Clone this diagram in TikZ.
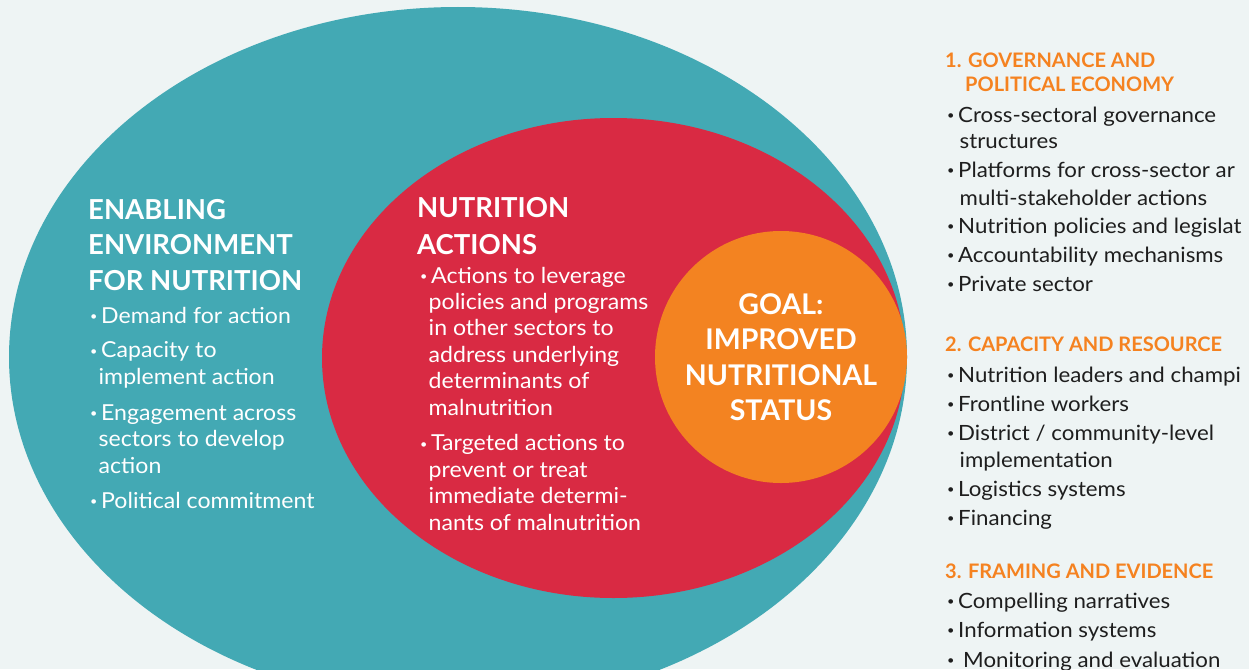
\documentclass[tikz,border=0pt]{standalone}
\usepackage{fontspec}
\setmainfont{Lato}
\newfontfamily\bodyfont[FakeStretch=1.05]{Lato}
\newfontfamily\sidefont[FakeStretch=1.06]{Lato}
\usepackage{tikz}
\usetikzlibrary{shapes.geometric}
\definecolor{BgGray}{RGB}{238,244,244}
\definecolor{Teal}{RGB}{67,169,180}
\definecolor{Red}{RGB}{217,42,67}
\definecolor{Orange}{RGB}{243,131,33}
\definecolor{HeadOrange}{RGB}{245,130,32}
\definecolor{FontColor}{RGB}{30,30,30}
% small bullet and hanging indents
\newcommand{\bul}{\makebox[11pt][l]{\raisebox{2.5pt}{\fontsize{12}{12}\selectfont•}}}
\newcommand{\ind}{\hspace*{8.5pt}}
\newcommand{\sind}{\hspace*{12.5pt}}
\tikzset{
    blob/.style={ellipse, inner sep=0pt, draw=none},
    headtext/.style={anchor=base west, inner sep=0pt, align=left, text=white, font=\bfseries\fontsize{27.5}{35.5}\selectfont},
    bodytext/.style={anchor=base west, inner sep=0pt, align=left, text=white, font=\bodyfont\fontsize{22}{26.4}\selectfont},
    sidehead/.style={anchor=base west, inner sep=0pt, align=left, text=HeadOrange, font=\bfseries\fontsize{20}{24}\selectfont},
    sidetext/.style={anchor=base west, inner sep=0pt, align=left, text=FontColor, font=\sidefont\fontsize{21}{26}\selectfont}
}

\begin{document}
\begin{tikzpicture}[x=1pt,y=-1pt]
    \useasboundingbox (0,0) rectangle (1249,669);
    \fill[BgGray] (0,0) rectangle (1249,669);

    % the three nested shapes
    \node[blob, fill=Teal, minimum width=898pt, minimum height=700pt] (env) at (458,357) {};
    \node[blob, fill=Red, minimum width=583pt, minimum height=480pt] (act) at (613.5,358) {};
    \node[circle, fill=Orange, minimum size=252pt, inner sep=0pt, align=center, text=white, font=\bfseries\fontsize{28.5}{35.5}\selectfont] (goal) at (781,357) {GOAL:\\IMPROVED\\NUTRITIONAL\\STATUS};

    % enabling environment (multi-line nodes sit on their last baseline)
    \node[headtext] (envhead) at (88,290) {ENABLING\\ENVIRONMENT\\FOR NUTRITION};
    \node[bodytext] (envdemand) at (90,323) {\bul Demand for action};
    \node[bodytext] (envcapacity) at (90,384) {\bul Capacity to\\\ind implement action};
    \node[bodytext] (envengage) at (90,473) {\bul Engagement across\\\ind sectors to develop\\\ind action};
    \node[bodytext] (envcommit) at (90,508) {\bul Political commitment};

    % nutrition actions
    \node[headtext, font=\bfseries\fontsize{27.5}{37}\selectfont] (acthead) at (417,254) {NUTRITION\\ACTIONS};
    \node[bodytext] (actleverage) at (420,415) {\bul Actions to leverage\\\ind policies and programs\\\ind in other sectors to\\\ind address underlying\\\ind determinants of\\\ind malnutrition};
    \node[bodytext] (acttarget) at (420,530) {\bul Targeted actions to\\\ind prevent or treat\\\ind immediate determi-\\\ind nants of malnutrition};

    % side column
    \node[sidehead] (gov) at (945,91) {1. GOVERNANCE AND\\\hspace*{20pt}POLITICAL ECONOMY};
    \node[sidetext] (govstruct) at (947,148) {\bul Cross-sectoral governance\\\sind structures};
    \node[sidetext, font=\sidefont\fontsize{21}{28}\selectfont] (govplatform) at (947,205) {\bul Platforms for cross-sector ar\\\sind multi-stakeholder actions};
    \node[sidetext] (govpolicy) at (947,233) {\bul Nutrition policies and legislat};
    \node[sidetext] (govaccount) at (947,262) {\bul Accountability mechanisms};
    \node[sidetext] (govprivate) at (947,291) {\bul Private sector};

    \node[sidehead] (cap) at (945,351) {2. CAPACITY AND RESOURCE};
    \node[sidetext] (capleaders) at (947,382) {\bul Nutrition leaders and champi};
    \node[sidetext] (capworkers) at (947,411) {\bul Frontline workers};
    \node[sidetext, font=\sidefont\fontsize{21}{27}\selectfont] (capdistrict) at (947,467) {\bul District / community-level\\\sind implementation};
    \node[sidetext] (caplogistics) at (947,496) {\bul Logistics systems};
    \node[sidetext] (capfinance) at (947,525) {\bul Financing};

    \node[sidehead] (frame) at (945,578) {3. FRAMING AND EVIDENCE};
    \node[sidetext] (framenarr) at (947,608) {\bul Compelling narratives};
    \node[sidetext] (frameinfo) at (947,637) {\bul Information systems};
    \node[sidetext] (framemonitor) at (947,667) {\bul\hspace*{5pt}Monitoring and evaluation};

\end{tikzpicture}
\end{document}
